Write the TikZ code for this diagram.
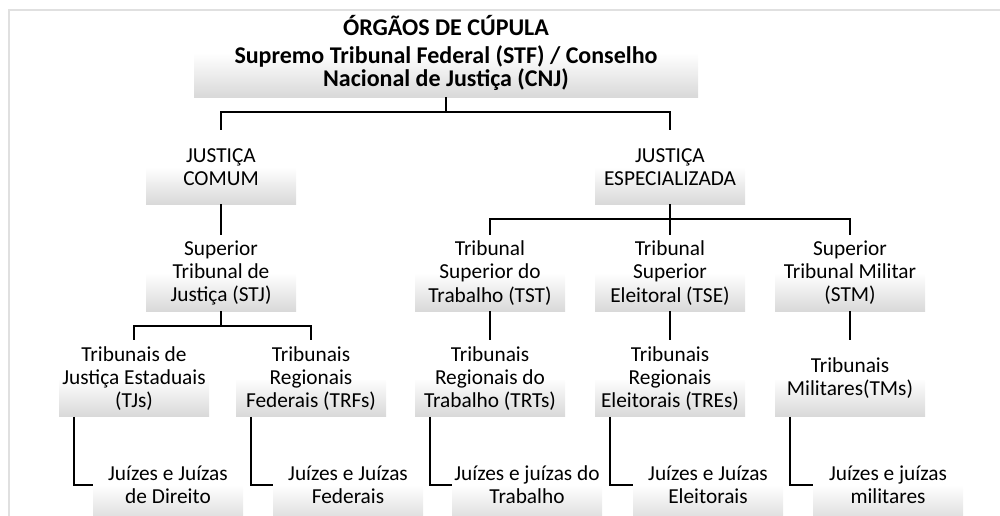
\documentclass[tikz,border=0pt]{standalone}
\usepackage{fontspec}
\setmainfont{Carlito}
\usetikzlibrary{calc}

\begin{document}
\begin{tikzpicture}[x=0.75pt,y=-0.75pt,
    box/.style={rectangle,top color=white,bottom color=black!15,middle color=white,
      minimum width=112.5pt,minimum height=57pt,inner sep=0pt,align=center,
      font=\fontsize{16}{17.3}\selectfont},
    conn/.style={line width=1.8pt}]
    \useasboundingbox (0,0) rectangle (1000,515);
    % top
    \node[box,minimum width=378pt,minimum height=66pt,font=\bfseries\fontsize{18}{17.3}\selectfont] (cup) at (446,53)
      {ÓRGÃOS DE CÚPULA\\[3pt]Supremo Tribunal Federal (STF) / Conselho\\Nacional de Justiça (CNJ)};
    \node[box,minimum height=55.5pt] (comum) at (221,167) {JUSTIÇA\\COMUM};
    \node[box,minimum height=55.5pt] (esp) at (670,167) {JUSTIÇA\\ESPECIALIZADA};
    % superior courts
    \node[box] (stj) at (221,273) {Superior\\Tribunal de\\Justiça (STJ)};
    \node[box] (tst) at (490,273) {Tribunal\\Superior do\\Trabalho (TST)};
    \node[box] (tse) at (670,273) {Tribunal\\Superior\\Eleitoral (TSE)};
    \node[box] (stm) at (850,273) {Superior\\Tribunal Militar\\(STM)};
    % second instance
    \node[box] (tjs) at (134,378.5) {Tribunais de\\Justiça Estaduais\\(TJs)};
    \node[box] (trfs) at (311,378.5) {Tribunais\\Regionais\\Federais (TRFs)};
    \node[box] (trts) at (490,378.5) {Tribunais\\Regionais do\\Trabalho (TRTs)};
    \node[box] (tres) at (670,378.5) {Tribunais\\Regionais\\Eleitorais (TREs)};
    \node[box] (tms) at (850,378.5) {Tribunais\\Militares(TMs)};
    % judges
    \node[box] (jdir) at (168,485) {Juízes e Juízas\\de Direito};
    \node[box] (jfed) at (348,485) {Juízes e Juízas\\Federais};
    \node[box] (jtrab) at (527,485) {Juízes e juízas do\\Trabalho};
    \node[box] (jele) at (708,485) {Juízes e Juízas\\Eleitorais};
    \node[box] (jmil) at (888,485) {Juízes e juízas\\militares};
    % connectors
    \draw[conn] (cup.south) -- ++(0,15) -| (comum.north);
    \draw[conn] (cup.south) -- ++(0,15) -| (esp.north);
    \draw[conn] (comum.south) -- (stj.north);
    \foreach \c in {tst,tse,stm}
      \draw[conn] (esp.south) -- ++(0,15) -| (\c.north);
    \draw[conn] (stj.south) -- ++(0,15) -| (tjs.north);
    \draw[conn] (stj.south) -- ++(0,15) -| (trfs.north);
    \draw[conn] (tst.south) -- (trts.north);
    \draw[conn] (tse.south) -- (tres.north);
    \draw[conn] (stm.south) -- (tms.north);
    \foreach \a/\b in {tjs/jdir,trfs/jfed,trts/jtrab,tres/jele,tms/jmil}
      \draw[conn] ($(\a.south west)+(15,0)$) |- (\b.west);
    % frame
    \draw[black!12,line width=1.5pt] (9,520) -- (9,10) -- (1010,10);
\end{tikzpicture}
\end{document}
